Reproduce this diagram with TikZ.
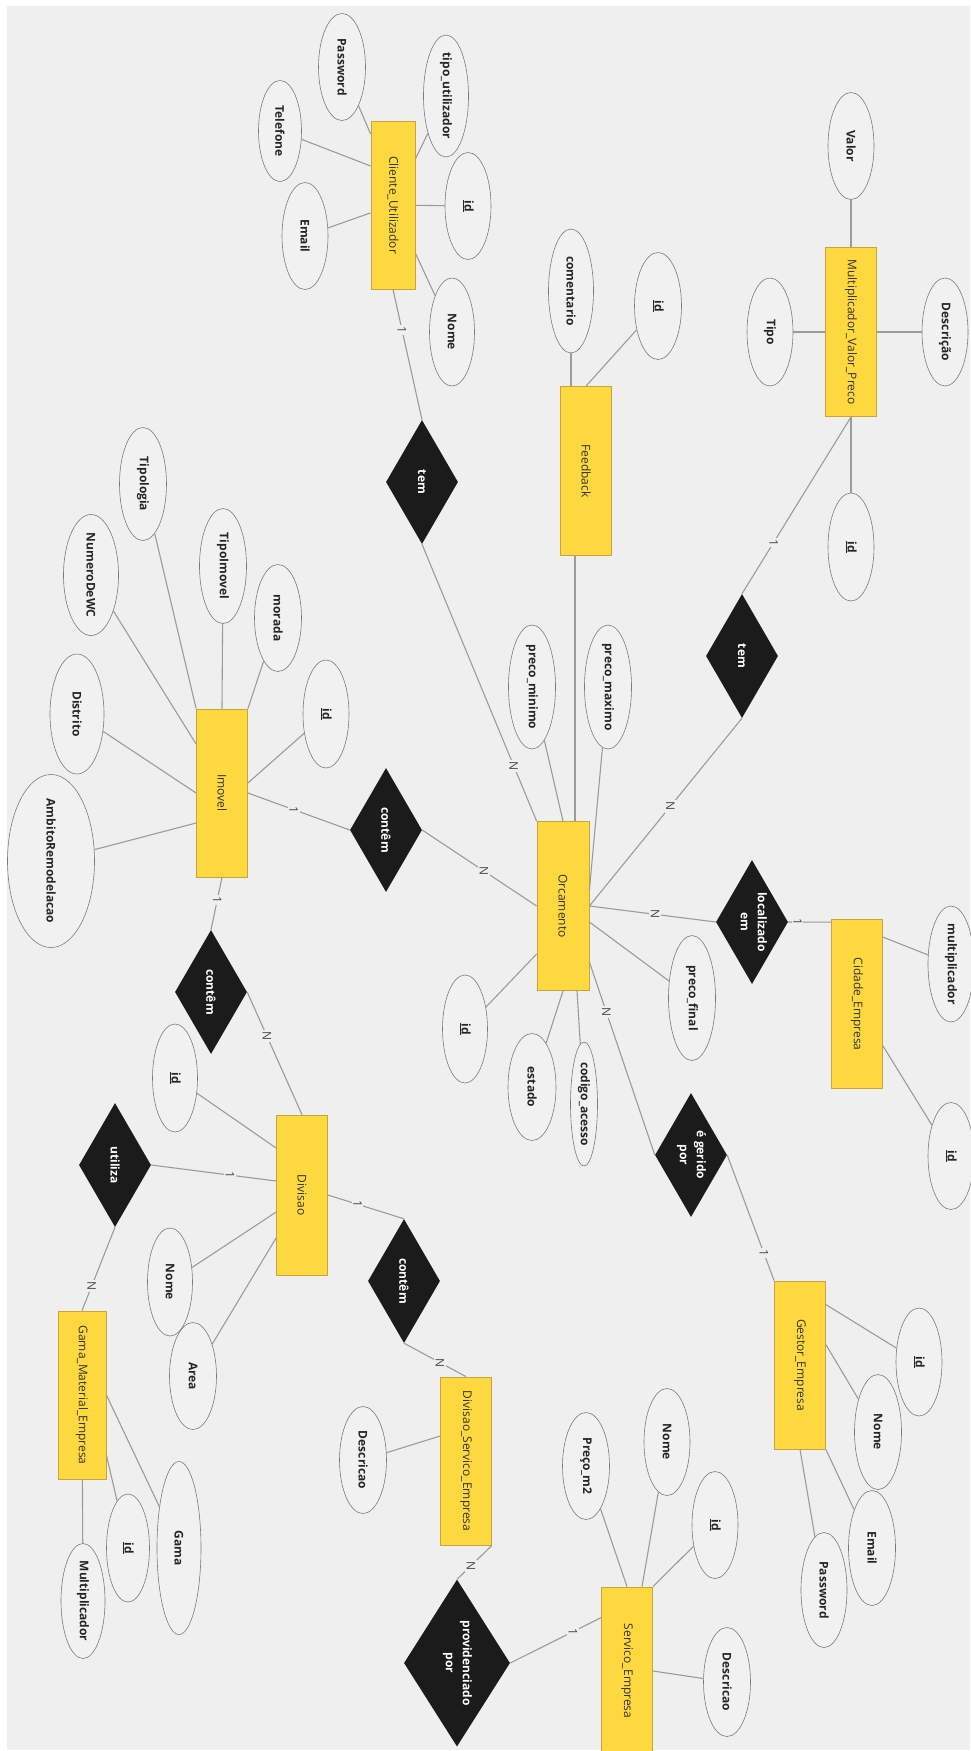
\documentclass[tikz,border=0pt]{standalone}
\usepackage{fontspec}
\setmainfont{Open Sans}
\usepackage{graphicx}
\usetikzlibrary{shapes.geometric}
\definecolor{bgc}{HTML}{EFEFEF}
\definecolor{entf}{HTML}{FDD83F}
\definecolor{entb}{HTML}{C6A53C}
\definecolor{entt}{HTML}{333333}
\definecolor{attf}{HTML}{F1F1F1}
\definecolor{attb}{HTML}{7A7A7A}
\definecolor{relf}{HTML}{1B1B1B}
\definecolor{lnc}{HTML}{9B9B9B}
\definecolor{lbt}{HTML}{4A4A4A}
\newcommand{\vt}[1]{\rotatebox{-90}{\makebox[0pt]{#1}}}
\newcommand{\vtt}[2]{\rotatebox{-90}{\makebox[0pt]{\begin{tabular}{@{}c@{}}#1\\[4pt]#2\end{tabular}}}}
\newcommand{\vl}[1]{\rotatebox{-90}{#1}}
\tikzset{
 ent/.style={rectangle, draw=entb, line width=0.8pt, fill=entf, text=entt, inner sep=0pt,
   minimum width=51pt, minimum height=168pt, font=\fontsize{12}{14}\selectfont},
 attr/.style={ellipse, draw=attb, line width=0.6pt, fill=attf, inner sep=0pt,
   font=\fontsize{12}{14}\selectfont\bfseries, text=black!85},
 sz/.style 2 args={minimum width=#1pt, minimum height=#2pt},
 rel/.style={diamond, fill=relf, draw=none, inner sep=0pt, text=white,
   minimum width=72pt, minimum height=124pt, font=\fontsize{12}{13}\selectfont\bfseries},
 conn/.style={draw=lnc, line width=1.1pt},
 lbl/.style={fill=bgc, inner sep=1.5pt, text=lbt, font=\fontsize{12}{14}\selectfont},
}
\begin{document}
\begin{tikzpicture}[x=1pt, y=-1pt]
\fill[white] (0,0) rectangle (970,1751);
\fill[bgc] (7,6) rectangle (970,1750);
\useasboundingbox (0,0) rectangle (970,1751);

% ---------- entities ----------
\node[ent, minimum width=44pt] (cli) at (393,205) {\vt{Cliente\_Utilizador}};
\node[ent, minimum height=169pt] (fb) at (586,471) {\vt{Feedback}};
\node[ent, minimum height=169pt] (mvp) at (851,332) {\vt{Multiplicador\_Valor\_Preco}};
\node[ent] (imo) at (222,793) {\vt{Imovel}};
\node[ent, minimum width=52pt, minimum height=169pt] (orc) at (563,906) {\vt{Orcamento}};
\node[ent, minimum height=169pt] (cid) at (857,1004) {\vt{Cidade\_Empresa}};
\node[ent] (ges) at (800,1365) {\vt{Gestor\_Empresa}};
\node[ent, minimum height=160pt] (div) at (302,1195) {\vt{Divisao}};
\node[ent, minimum width=48pt] (gme) at (82,1395) {\vt{Gama\_Material\_Empresa}};
\node[ent] (dse) at (466,1461) {\vt{Divisao\_Servico\_Empresa}};
\node[ent] (ser) at (627,1671) {\vt{Servico\_Empresa}};

% ---------- relationships ----------
\node[rel] (r1) at (422,482) {\vt{tem}};
\node[rel] (r2) at (742,656) {\vt{tem}};
\node[rel] (r3) at (386,830) {\vt{contêm}};
\node[rel] (r4) at (752,922) {\vtt{localizado}{em}};
\node[rel] (r5) at (691,1155) {\vtt{é gerido}{por}};
\node[rel] (r6) at (211,992) {\vt{contêm}};
\node[rel] (r7) at (115,1165) {\vt{utiliza}};
\node[rel] (r8) at (404,1281) {\vt{contêm}};
\node[rel, minimum width=106pt, minimum height=167pt] (r9) at (457,1663) {\vtt{providenciado}{por}};

% ---------- attributes ----------
% Cliente_Utilizador
\node[attr, sz={47}{107}] (cPass) at (342,67) {\vt{Password}};
\node[attr, sz={45}{122}] (cTipo) at (446,96) {\vt{tipo\_utilizador}};
\node[attr, sz={43}{101}] (cTel) at (280,131) {\vt{Telefone}};
\node[attr, sz={46}{107}] (cEmail) at (305,236) {\vt{Email}};
\node[attr, sz={46}{107}] (cId) at (468,206) {\vt{\underline{id}}};
\node[attr, sz={45}{108}] (cNome) at (452,332) {\vt{Nome}};
% Feedback
\node[attr, sz={45}{124}] (fCom) at (571,291) {\vt{comentario}};
\node[attr, sz={47}{107}] (fId) at (658,306) {\vt{\underline{id}}};
% Multiplicador_Valor_Preco
\node[attr, sz={46}{107}] (mValor) at (851,146) {\vt{Valor}};
\node[attr, sz={46}{108}] (mTipo) at (770,332) {\vt{Tipo}};
\node[attr, sz={46}{108}] (mDesc) at (945,332) {\vt{Descrição}};
\node[attr, sz={46}{108}] (mId) at (851,547) {\vt{\underline{id}}};
% Orcamento
\node[attr, sz={47}{124}] (oMin) at (532,687) {\vt{preco\_minimo}};
\node[attr, sz={47}{124}] (oMax) at (608,687) {\vt{preco\_maximo}};
\node[attr, sz={47}{125}] (oFin) at (692,998) {\vt{preco\_final}};
\node[attr, sz={48}{107}] (oEst) at (532,1087) {\vt{estado}};
\node[attr, sz={27}{124}] (oCod) at (584,1104) {\vt{codigo\_acesso}};
\node[attr, sz={45}{108}] (oId) at (465,1029) {\vt{\underline{id}}};
% Cidade_Empresa
\node[attr, sz={46}{116}] (ciMul) at (951,964) {\vt{multiplicador}};
\node[attr, sz={46}{107}] (ciId) at (951,1156) {\vt{\underline{id}}};
% Gestor_Empresa
\node[attr, sz={46}{108}] (gId) at (919,1362) {\vt{\underline{id}}};
\node[attr, sz={47}{115}] (gNome) at (878,1432) {\vt{Nome}};
\node[attr, sz={47}{115}] (gEmail) at (872,1548) {\vt{Email}};
\node[attr, sz={46}{115}] (gPass) at (824,1590) {\vt{Password}};
% Servico_Empresa
\node[attr, sz={47}{107}] (sPreco) at (586,1466) {\vt{Preço\_m2}};
\node[attr, sz={46}{107}] (sNome) at (667,1442) {\vt{Nome}};
\node[attr, sz={46}{107}] (sId) at (715,1525) {\vt{\underline{id}}};
\node[attr, sz={47}{109}] (sDesc) at (727,1682) {\vt{Descricao}};
% Divisao_Servico_Empresa
\node[attr, sz={47}{107}] (dDesc) at (363,1460) {\vt{Descricao}};
% Divisao
\node[attr, sz={45}{108}] (vId) at (175,1078) {\vt{\underline{id}}};
\node[attr, sz={45}{108}] (vNome) at (170,1282) {\vt{Nome}};
\node[attr, sz={47}{107}] (vArea) at (193,1376) {\vt{Area}};
% Gama_Material_Empresa
\node[attr, sz={44}{173}] (gaGama) at (179,1548) {\vt{Gama}};
\node[attr, sz={43}{108}] (gaId) at (128,1548) {\vt{\underline{id}}};
\node[attr, sz={44}{115}] (gaMul) at (83,1601) {\vt{Multiplicador}};
% Imovel
\node[attr, sz={47}{113}] (iTipologia) at (143,484) {\vt{Tipologia}};
\node[attr, sz={55}{121}] (iWC) at (91,575) {\vt{NumeroDeWC}};
\node[attr, sz={47}{115}] (iTipoI) at (223,566) {\vt{TipoImovel}};
\node[attr, sz={47}{107}] (iMorada) at (278,618) {\vt{morada}};
\node[attr, sz={46}{108}] (iId) at (326,714) {\vt{\underline{id}}};
\node[attr, sz={54}{120}] (iDist) at (77,714) {\vt{Distrito}};
\node[attr, sz={87}{173}] (iAmb) at (51,861) {\vt{AmbitoRemodelacao}};

\coordinate (fbL) at ([xshift=-11pt]fb.south);

% ---------- attribute connectors ----------
\draw[conn] ([yshift=71pt]cli.west) -- (cPass);
\draw[conn] ([yshift=39pt]cli.west) -- (cTel);
\draw[conn] (cli) -- (cEmail);
\draw[conn] (cli) -- (cTipo);
\draw[conn] (cli) -- (cId);
\draw[conn] (cli) -- (cNome);
\draw[conn] (fCom) -- (fCom |- fb.north);
\draw[conn] (fb.north) -- (fId);
\draw[conn] (fbL) -- (fbL |- orc.north);
\draw[conn] (mvp) -- (mValor);
\draw[conn] (mvp) -- (mTipo);
\draw[conn] (mvp) -- (mDesc);
\draw[conn] (mvp) -- (mId);
\draw[conn] (imo.north west) -- (iTipologia);
\draw[conn] ([yshift=49pt]imo.west) -- (iWC);
\draw[conn] (imo.north) -- (iTipoI);
\draw[conn] (imo.north east) -- (iMorada);
\draw[conn] ([yshift=10pt]imo.east) -- (iId);
\draw[conn] (imo.west) -- (iDist);
\draw[conn] ([yshift=-30pt]imo.west) -- (iAmb);
\draw[conn] (orc.north) -- (oMin);
\draw[conn] ([yshift=16pt]orc.east) -- (oMax);
\draw[conn] ([yshift=-16pt]orc.east) -- (oFin);
\draw[conn] (orc.south) -- (oEst);
\draw[conn] ([xshift=14pt]orc.south) -- (oCod);
\draw[conn] ([yshift=-48pt]orc.west) -- (oId);
\draw[conn] ([yshift=-18pt]cid.north east) -- (ciMul);
\draw[conn] (cid) -- (ciId);
\draw[conn] ([yshift=-24pt]ges.north east) -- (gId);
\draw[conn] ([yshift=-64pt]ges.north east) -- (gNome);
\draw[conn] (ges.south east) -- (gEmail);
\draw[conn] (ges.south) -- (gPass);
\draw[conn] (ser.north) -- (sPreco);
\draw[conn] ([xshift=15pt]ser.north) -- (sNome);
\draw[conn] (ser.north east) -- (sId);
\draw[conn] (ser.east) -- (sDesc);
\draw[conn] ([yshift=25pt]dse.west) -- (dDesc);
\draw[conn] ([yshift=47pt]div.west) -- (vId);
\draw[conn] (div) -- (vNome);
\draw[conn] (div) -- (vArea);
\draw[conn] (gme.east) -- (gaGama);
\draw[conn] ([yshift=-60pt]gme.east) -- (gaId);
\draw[conn] (gme) -- (gaMul);

% ---------- relationship connectors ----------
\draw[conn] (cli.south) -- node[lbl, pos=0.31] {\vl{1}} (r1.north);
\draw[conn] (r1.south) -- node[lbl, pos=0.80] {\vl{N}} (orc.north west);
\draw[conn] (mvp.south) -- node[lbl, pos=0.71] {\vl{1}} (r2.north);
\draw[conn] (r2.south) -- node[lbl, pos=0.47] {\vl{N}} (orc.east);
\draw[conn] (imo.east) -- node[lbl, pos=0.45] {\vl{1}} (r3.west);
\draw[conn] (r3.east) -- node[lbl, pos=0.54] {\vl{N}} (orc.west);
\draw[conn] (orc.east) -- node[lbl, pos=0.52] {\vl{N}} (r4.west);
\draw[conn] (r4.east) -- node[lbl, pos=0.22] {\vl{1}} ([yshift=-3pt]cid.north west);
\draw[conn] ([yshift=-56pt]orc.east) -- node[lbl, pos=0.26] {\vl{N}} (r5.west);
\draw[conn] (r5.east) -- node[lbl, pos=0.78] {\vl{1}} (ges.north west);
\draw[conn] (imo.south) -- node[lbl, pos=0.43] {\vl{1}} (r6.north);
\draw[conn] (r6.east) -- node[lbl, pos=0.36] {\vl{N}} (div.north);
\draw[conn] ([yshift=14pt]div.west) -- node[lbl, pos=0.37] {\vl{1}} (r7.east);
\draw[conn] (r7.south) -- node[lbl, pos=0.71] {\vl{N}} (gme.north);
\draw[conn] (div.east) -- node[lbl, pos=0.39] {\vl{1}} (r8.north);
\draw[conn] (r8.south) -- node[lbl, pos=0.58] {\vl{N}} (dse.north);
\draw[conn] (dse.south east) -- node[lbl, pos=0.6] {\vl{N}} (r9.north);
\draw[conn] (r9.east) -- node[lbl, pos=0.69] {\vl{1}} ([yshift=-31pt]ser.north west);
\end{tikzpicture}
\end{document}
